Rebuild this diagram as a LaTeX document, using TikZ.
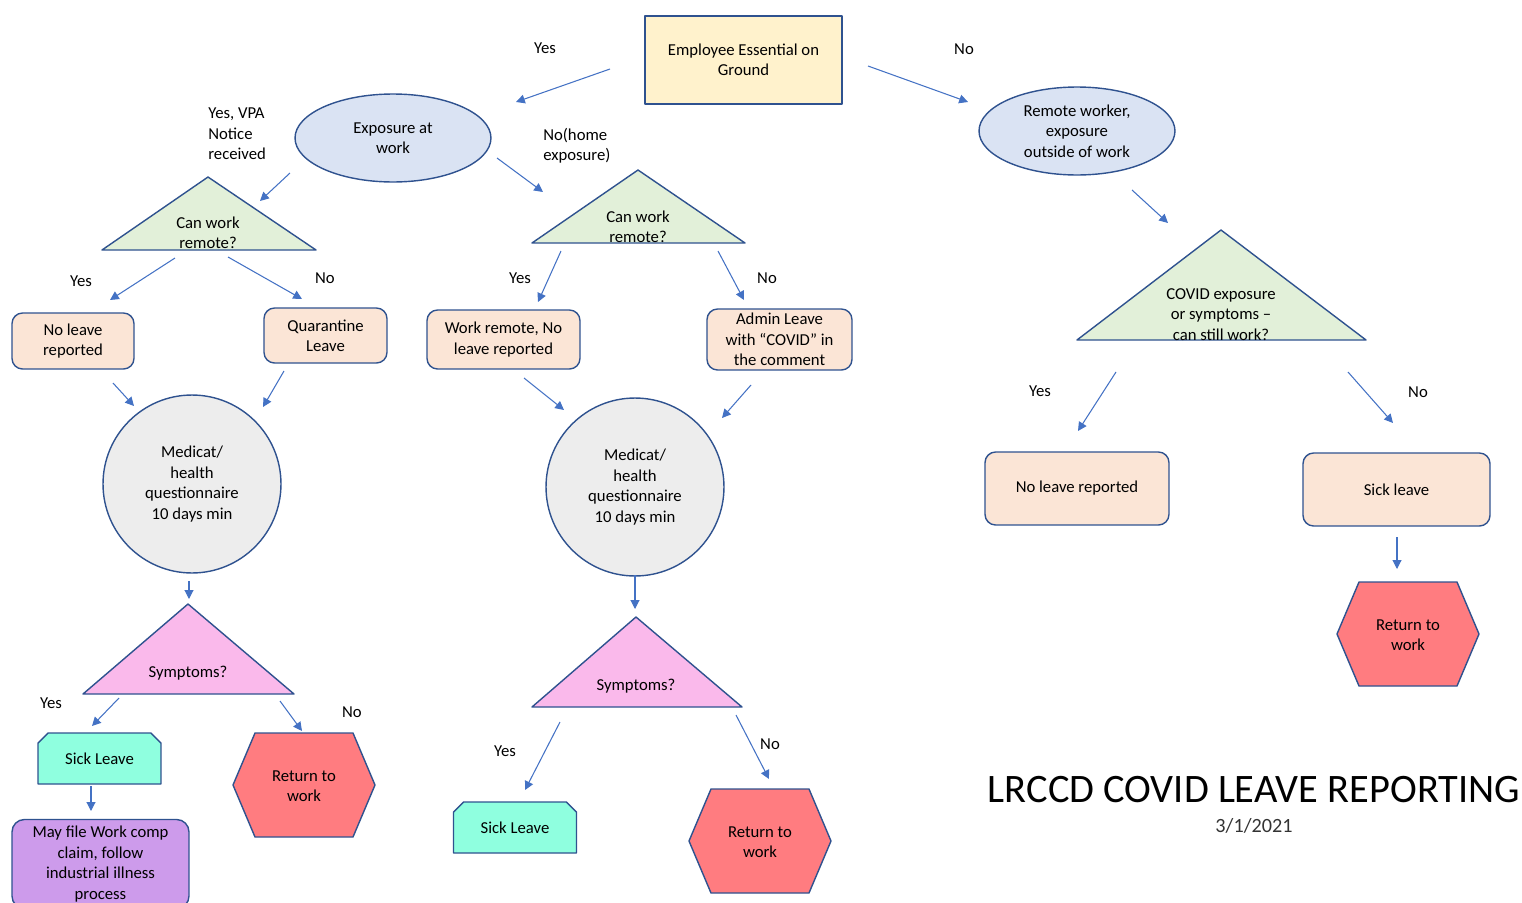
\documentclass[tikz,border=0pt]{standalone}
\usepackage{fontspec}
\setmainfont{Carlito}
\usetikzlibrary{arrows.meta,shapes.geometric,shapes.misc}
\definecolor{edgeblue}{RGB}{47,82,143}
\definecolor{arrowblue}{RGB}{68,114,196}
\definecolor{cream}{RGB}{255,242,204}
\definecolor{paleblue}{RGB}{218,227,243}
\definecolor{palegreen}{RGB}{226,240,217}
\definecolor{peach}{RGB}{251,229,214}
\definecolor{palegray}{RGB}{237,237,237}
\definecolor{pink}{RGB}{250,185,235}
\definecolor{aqua}{RGB}{143,255,223}
\definecolor{salmon}{RGB}{255,124,128}
\definecolor{lilac}{RGB}{205,155,235}
\tikzset{
  shapeline/.style={draw=edgeblue, line width=0.8pt},
  leavebox/.style={shapeline, fill=peach, rounded corners=6pt, align=center, inner sep=0pt},
  oval/.style={shapeline, fill=paleblue, ellipse, align=center, inner sep=0pt, minimum width=3.92cm, minimum height=1.76cm},
  quiz/.style={shapeline, fill=palegray, circle, align=center, inner sep=0pt, minimum size=3.56cm},
  sickbox/.style={shapeline, fill=aqua, chamfered rectangle, chamfered rectangle corners={north west,north east}, chamfered rectangle sep=0.1cm, inner sep=0pt, minimum width=2.46cm, minimum height=1.02cm},
  txt/.style={align=center, inner sep=0pt},
  flow/.style={draw=arrowblue, line width=0.6pt, -{Triangle[length=5pt,width=5pt]}}
}
\begin{document}
\begin{tikzpicture}[x=0.02cm, y=-0.02cm, font=\fontsize{9.5}{11.6}\selectfont, line join=round]
\useasboundingbox (0,0) rectangle (1522,903);
% start
\node[shapeline, line width=1.3pt, fill=cream, txt, minimum width=3.94cm, minimum height=1.76cm] (emp) at (743.5,60) {Employee Essential on\\Ground};
\node[oval] (exp) at (393,138) {Exposure at\\work};
\node[oval] (rem) at (1077,131) {Remote worker,\\exposure\\outside of work};
% decision triangles
\path (208,177) coordinate (t1a) (102,250) coordinate (t1b) (316,250) coordinate (t1c)
      (638,170) coordinate (t2a) (532,243) coordinate (t2b) (745,243) coordinate (t2c)
      (1221,230) coordinate (t3a) (1077,340) coordinate (t3b) (1366,340) coordinate (t3c)
      (188,604) coordinate (t4a) (83,694) coordinate (t4b) (294,694) coordinate (t4c)
      (636,617) coordinate (t5a) (532,707) coordinate (t5b) (742,707) coordinate (t5c);
\foreach \t/\c in {t1/palegreen,t2/palegreen,t3/palegreen,t4/pink,t5/pink}
  \draw[shapeline, fill=\c] (\t a) -- (\t b) -- (\t c) -- cycle;
\node[txt] (cwr1) at (208,233) {Can work\\remote?};
\node[txt] (cwr2) at (638,226.5) {Can work\\remote?};
\node[txt] (cse) at (1221,314.5) {COVID exposure\\or symptoms --\\can still work?};
\node[txt] (sym1) at (188,673) {Symptoms?};
\node[txt] (sym2) at (636,686) {Symptoms?};
% leave boxes
\node[leavebox, minimum width=2.44cm, minimum height=1.12cm] (nl1) at (73,341) {No leave\\reported};
\node[leavebox, minimum width=2.46cm, minimum height=1.1cm] (ql) at (325.5,335.5) {Quarantine\\Leave};
\node[leavebox, minimum width=3.06cm, minimum height=1.18cm] (wr) at (503.5,339.5) {Work remote, No\\leave reported};
\node[leavebox, minimum width=2.9cm, minimum height=1.22cm] (al) at (779.5,339.5) {Admin Leave\\with “COVID” in\\the comment};
\node[leavebox, minimum width=3.68cm, minimum height=1.46cm] (nl2) at (1077,488.5) {No leave reported};
\node[leavebox, minimum width=3.74cm, minimum height=1.46cm] (sl3) at (1396.5,489.5) {Sick leave};
% questionnaire
\node[quiz] (med1) at (192,484) {Medicat/\\health\\questionnaire\\10 days min};
\node[quiz] (med2) at (635,487) {Medicat/\\health\\questionnaire\\10 days min};
% sick leave and work comp
\node[sickbox] (sl1) at (99.5,758.5) {Sick Leave};
\node[sickbox] (sl2) at (515,827.5) {Sick Leave};
\node[shapeline, fill=lilac, rounded corners=7pt, txt, minimum width=3.54cm, minimum height=1.78cm] (wc) at (100.5,864) {May file Work comp\\claim, follow\\industrial illness\\process};
% return to work hexagons
\foreach \x/\y [count=\i] in {304/785,760/841,1408/634} {
  \draw[shapeline, fill=salmon] (\x-71,\y) -- (\x-49,\y-52) -- (\x+49,\y-52) -- (\x+71,\y) -- (\x+49,\y+52) -- (\x-49,\y+52) -- cycle;
  \node[txt] (rtw\i) at (\x,\y+1) {Return to\\work};
}
% labels
\foreach \p/\t [count=\i] in {(545,48)/Yes,(964,49)/No,(81,281)/Yes,(325,278)/No,(520,278)/Yes,(767,278)/No,(1040,391)/Yes,(1418,392)/No,(51,703)/Yes,(352,712)/No,(505,751)/Yes,(770,744)/No}
  \node[txt] (lbl\i) at \p {\t};
\node[txt, align=left, anchor=west] (vpa) at (208,134) {Yes, VPA\\Notice\\received};
\node[txt, align=left, anchor=west] (home) at (543,145.5) {No(home\\exposure)};
% connectors
\path (610,69) coordinate (s1) (516,102) coordinate (e1)
      (868,66) coordinate (s2) (968,102) coordinate (e2)
      (290,173) coordinate (s3) (260,201) coordinate (e3)
      (497,158) coordinate (s4) (543,192) coordinate (e4)
      (1132,190) coordinate (s5) (1168,223) coordinate (e5)
      (175,258) coordinate (s6) (110,300) coordinate (e6)
      (228,257) coordinate (s7) (302,299) coordinate (e7)
      (561,251) coordinate (s8) (538,302) coordinate (e8)
      (718,251) coordinate (s9) (744,300) coordinate (e9)
      (1116,372) coordinate (s10) (1078,431) coordinate (e10)
      (1348,372) coordinate (s11) (1393,423) coordinate (e11)
      (113,383) coordinate (s12) (134,406) coordinate (e12)
      (284,371) coordinate (s13) (263,407) coordinate (e13)
      (524,378) coordinate (s14) (564,410) coordinate (e14)
      (751,385) coordinate (s15) (722,418) coordinate (e15)
      (1397,537) coordinate (s16) (1397,569) coordinate (e16)
      (189,581) coordinate (s17) (189,599) coordinate (e17)
      (635,575) coordinate (s18) (635,609) coordinate (e18)
      (119,698) coordinate (s19) (92,726) coordinate (e19)
      (280,701) coordinate (s20) (302,731) coordinate (e20)
      (560,722) coordinate (s21) (525,790) coordinate (e21)
      (736,715) coordinate (s22) (769,779) coordinate (e22)
      (91,786) coordinate (s23) (91,811) coordinate (e23);
\foreach \n in {1,...,23} \draw[flow] (s\n) -- (e\n);
% title
\node[txt, font=\fontsize{23}{27}\selectfont] (title) at (1254,790) {LRCCD COVID LEAVE REPORTING};
\node[txt, font=\fontsize{11.5}{13}\selectfont, text=black!80] (date) at (1254,826) {3/1/2021};
\end{tikzpicture}
\end{document}
